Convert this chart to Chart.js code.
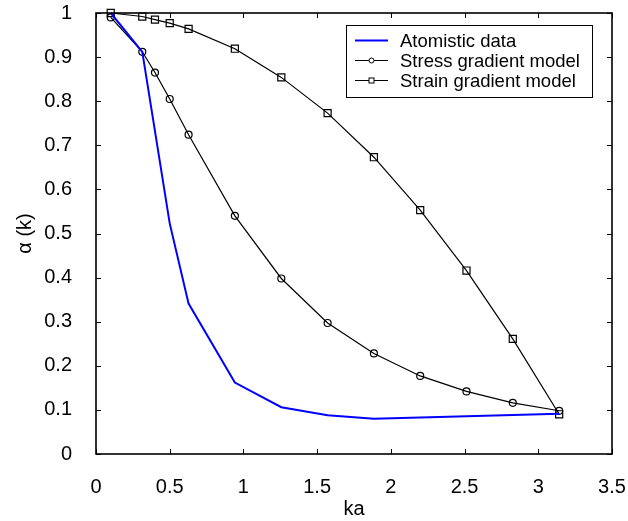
<!DOCTYPE html>
<html>
<head>
<meta charset="utf-8">
<script src="https://cdn.jsdelivr.net/npm/chart.js@4"></script>
<style>
  body { margin: 0; background: #fff; }
  canvas { display: block; }
</style>
</head>
<body>
<canvas id="grafico" width="628" height="521"></canvas>
<script>
// datos
const ka = [0.1, 0.314, 0.4, 0.5, 0.628, 0.942, 1.257, 1.571, 1.885, 2.199, 2.513, 2.827, 3.1416];
const kaAtom = [0.1, 0.314, 0.5, 0.628, 0.942, 1.257, 1.571, 1.885, 3.1416];
const atomistic = [1.0, 0.912, 0.523, 0.341, 0.162, 0.106, 0.088, 0.080, 0.091];
const stressGrad = [0.990, 0.912, 0.865, 0.805, 0.724, 0.540, 0.398, 0.297, 0.228, 0.177, 0.142, 0.116, 0.098];
const strainGrad = [1.0, 0.992, 0.985, 0.977, 0.964, 0.919, 0.854, 0.773, 0.673, 0.553, 0.416, 0.261, 0.090];
const xTicks = [0, 0.5, 1, 1.5, 2, 2.5, 3, 3.5];
const yTicks = [0, 0.1, 0.2, 0.3, 0.4, 0.5, 0.6, 0.7, 0.8, 0.9, 1];

const fuente = "'Liberation Sans', Arial, sans-serif";

// marco y marcas hacia dentro en los cuatro lados
const marcoPlugin = {
    id: 'marco',
    afterDraw(chart) {
        const c = chart.ctx;
        const a = chart.chartArea;
        const sx = chart.scales.x, sy = chart.scales.y;
        c.save();
        c.strokeStyle = '#000';
        c.lineWidth = 1;
        c.beginPath();
        xTicks.forEach(v => {
            const px = Math.round(sx.getPixelForValue(v)) + 0.5;
            c.moveTo(px, a.bottom); c.lineTo(px, a.bottom - 5);
            c.moveTo(px, a.top); c.lineTo(px, a.top + 5);
        });
        yTicks.forEach(v => {
            const py = Math.round(sy.getPixelForValue(v)) + 0.5;
            c.moveTo(a.left, py); c.lineTo(a.left + 5, py);
            c.moveTo(a.right, py); c.lineTo(a.right - 5, py);
        });
        c.stroke();
        c.lineWidth = 1.6;
        c.strokeRect(a.left, a.top, a.right - a.left, a.bottom - a.top);
        c.restore();
    }
};

// leyenda dentro del area
const leyendaPlugin = {
    id: 'leyenda',
    afterDraw(chart) {
        const c = chart.ctx;
        const x0 = 346, y0 = 25, w = 246, h = 72;
        c.save();
        c.fillStyle = '#fff';
        c.fillRect(x0, y0, w, h);
        c.strokeStyle = '#000';
        c.lineWidth = 1;
        c.strokeRect(x0 + 0.5, y0 + 0.5, w, h);
        c.font = '18.5px ' + fuente;
        c.textBaseline = 'middle';
        chart.data.datasets.forEach((ds, i) => {
            const y = 40.5 + i * 20;
            c.strokeStyle = ds.borderColor;
            c.lineWidth = ds.borderWidth;
            c.beginPath();
            c.moveTo(355, y); c.lineTo(388, y);
            c.stroke();
            c.lineWidth = 1;
            if (ds.pointStyle === 'circle') {
                c.fillStyle = '#fff';
                c.beginPath();
                c.arc(371.5, y, 2.5, 0, Math.PI * 2);
                c.fill(); c.stroke();
            } else if (ds.pointStyle === 'rect') {
                c.fillStyle = '#fff';
                c.fillRect(369, y - 2.5, 5, 5);
                c.strokeRect(369, y - 2.5, 5, 5);
            }
            c.fillStyle = '#000';
            c.fillText(ds.label, 400, y + 1);
        });
        c.restore();
    }
};

const ctx = document.getElementById('grafico').getContext('2d');
new Chart(ctx, {
    type: 'line',
    data: {
        datasets: [{
            label: 'Atomistic data',
            data: kaAtom.map((x, i) => ({ x: x, y: atomistic[i] })),
            borderColor: '#0000ff',
            borderWidth: 2,
            pointRadius: 0,
            pointStyle: false
        }, {
            label: 'Stress gradient model',
            data: ka.map((x, i) => ({ x: x, y: stressGrad[i] })),
            borderColor: '#000',
            borderWidth: 1.2,
            pointStyle: 'circle',
            pointRadius: 3.5,
            pointBorderWidth: 1.2,
            pointBackgroundColor: 'rgba(255,255,255,0)',
            pointBorderColor: '#000'
        }, {
            label: 'Strain gradient model',
            data: ka.map((x, i) => ({ x: x, y: strainGrad[i] })),
            borderColor: '#000',
            borderWidth: 1.2,
            pointStyle: 'rect',
            pointRadius: 5,
            pointBorderWidth: 1.2,
            pointBackgroundColor: 'rgba(255,255,255,0)',
            pointBorderColor: '#000'
        }]
    },
    options: {
        responsive: false,
        animation: false,
        clip: false,
        layout: { padding: { top: 13, right: 16, left: 0, bottom: 0 } },
        plugins: {
            legend: { display: false },
            tooltip: { enabled: false }
        },
        scales: {
            x: {
                type: 'linear',
                min: 0,
                max: 3.5,
                afterFit: s => { s.height = 67; s.paddingLeft = 0; s.paddingRight = 0; },
                afterBuildTicks: s => { s.ticks = xTicks.map(v => ({ value: v })); },
                grid: { display: false },
                border: { display: false },
                ticks: {
                    color: '#000',
                    padding: 13,
                    maxRotation: 0,
                    font: { family: fuente, size: 20 },
                    callback: v => String(v)
                },
                title: {
                    display: true,
                    text: 'ka',
                    color: '#000',
                    font: { family: fuente, size: 20 },
                    padding: { top: 0, bottom: 0 }
                }
            },
            y: {
                min: 0,
                max: 1,
                afterFit: s => { s.width = 96; s.paddingTop = 0; s.paddingBottom = 0; },
                afterBuildTicks: s => { s.ticks = yTicks.map(v => ({ value: v })); },
                grid: { display: false },
                border: { display: false },
                ticks: {
                    color: '#000',
                    padding: 16,
                    font: { family: fuente, size: 20 },
                    callback: v => String(v)
                },
                title: {
                    display: true,
                    text: 'α (k)',
                    color: '#000',
                    font: { family: fuente, size: 20 },
                    padding: { top: 13, bottom: 0 }
                }
            }
        }
    },
    plugins: [marcoPlugin, leyendaPlugin]
});
</script>
</body>
</html>
